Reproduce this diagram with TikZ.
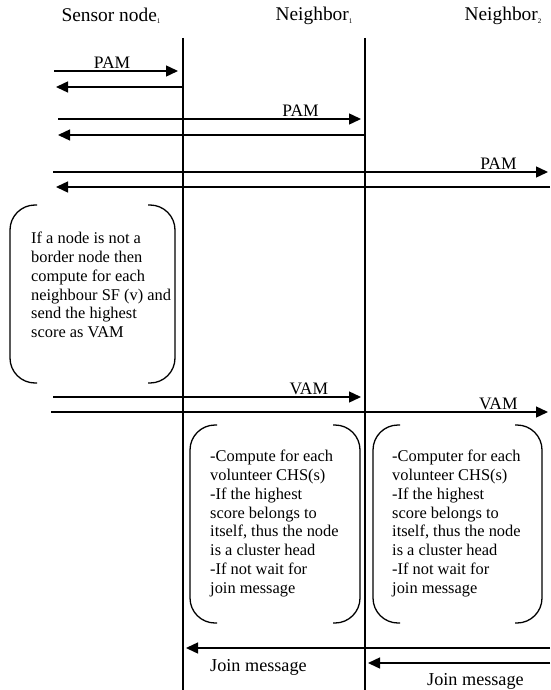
\documentclass[tikz,border=0pt]{standalone}
\usepackage{fontspec}
\setmainfont{Liberation Serif}
\usetikzlibrary{arrows.meta, positioning, calc}
\newcommand{\lowidx}[1]{\raisebox{-2.5pt}{\fontsize{7}{8}\selectfont #1}}

\begin{document}
\begin{tikzpicture}[
  x=1pt, y=-1pt,
  msg/.style={
    -{Triangle[length=12pt, width=11pt]},
    line width=1.4pt
  },
  life/.style={line width=1.4pt},
  head/.style={
    font=\fontsize{19.4}{22}\selectfont, inner sep=0pt
  },
  lbl/.style={
    font=\fontsize{17.5}{20}\selectfont, inner sep=0pt
  },
  joinlbl/.style={
    font=\fontsize{18.2}{21}\selectfont, inner sep=0pt,
    anchor=base west
  },
  note/.style={
    font=\fontsize{16.4}{18.8}\selectfont,
    align=left, anchor=north west, inner sep=0pt
  },
  brk/.style={line width=1.3pt, rounded corners=25pt}
]
\useasboundingbox (0,0) rectangle (550,690);

%% ── Cabeceras ────────────────────────────────────────────────────────────
\node[head] (sensor) at (111,16) {Sensor node\lowidx{1}};
\node[head] (nbrA)   at (314,16) {Neighbor\lowidx{1}};
\node[head] (nbrB)   at (503,16) {Neighbor\lowidx{2}};

%% ── Lineas de vida ───────────────────────────────────────────────────────
\coordinate (lA)    at (183,38);
\coordinate (lAend) at (183,690);
\coordinate (lB)    at (365,38);
\coordinate (lBend) at (365,690);
\coordinate (rim)   at (548,0);
\coordinate (edge)  at (550,0);

\draw[life] (lA) -- (lAend);
\draw[life] (lB) -- (lBend);

%% ── PAM ──────────────────────────────────────────────────────────────────
\coordinate (pamA) at (54,71);
\coordinate (retA) at (56,87);
\coordinate (pamB) at (58,119);
\coordinate (retB) at (58,135);
\coordinate (pamC) at (53,172);
\coordinate (retC) at (56,187);

\draw[msg, shorten >=5pt] (pamA) -- node[lbl, pos=0.45, above=2pt] {PAM} (pamA -| lA);
\draw[msg] (retA -| lA) -- (retA);
\draw[msg, shorten >=4pt] (pamB) -- node[lbl, pos=0.79, above=2pt] {PAM} (pamB -| lB);
\draw[msg] (retB -| lB) -- (retB);
\draw[msg] (pamC) -- node[lbl, pos=0.9, above=2pt] {PAM} (pamC -| rim);
\draw[msg] (retC -| edge) -- (retC);

%% ── Nota del nodo sensor ────────────────────────────────────────────────
\draw[brk] (37,205) -- (10,205) -- (10,383) -- (37,383);
\draw[brk] (148,205) -- (175,205) -- (175,383) -- (148,383);
\node[note] (border) at (31,232)
  {If a node is not a\\
   border node then\\
   compute for each\\
   neighbour SF (v) and\\
   send the highest\\
   score as VAM};

%% ── VAM ──────────────────────────────────────────────────────────────────
\coordinate (vamA) at (53,397);
\coordinate (vamB) at (51,412);

\draw[msg, shorten >=4pt] (vamA) -- node[lbl, pos=0.82, above=2pt] {VAM} (vamA -| lB);
\draw[msg] (vamB) -- node[lbl, pos=0.9, above=2pt] {VAM} (vamB -| rim);

%% ── Notas de los vecinos ────────────────────────────────────────────────
\draw[brk] (217,425) -- (190,425) -- (190,623) -- (217,623);
\draw[brk] (333,425) -- (360,425) -- (360,623) -- (333,623);
\node[note] (chsA) at (210,450)
  {-Compute for each\\
   volunteer CHS(s)\\
   -If the highest\\
   score belongs to\\
   itself, thus the node\\
   is a cluster head\\
   -If not wait for\\
   join message};

\draw[brk] (400,425) -- (373,425) -- (373,623) -- (400,623);
\draw[brk] (515,425) -- (542,425) -- (542,623) -- (515,623);
\node[note] (chsB) at (392,450)
  {-Computer for each\\
   volunteer CHS(s)\\
   -If the highest\\
   score belongs to\\
   itself, thus the node\\
   is a cluster head\\
   -If not wait for\\
   join message};

%% ── Join message ────────────────────────────────────────────────────────
\coordinate (joinA) at (186,648);
\coordinate (joinB) at (368,663);
\coordinate (joinAtxt) at (210,671);
\coordinate (joinBtxt) at (427,685.5);

\draw[msg] (joinA -| edge) -- (joinA);
\draw[msg] (joinB -| edge) -- (joinB);
\node[joinlbl] (joinlblA) at (joinAtxt) {Join message};
\node[joinlbl] (joinlblB) at (joinBtxt) {Join message};

\end{tikzpicture}
\end{document}
